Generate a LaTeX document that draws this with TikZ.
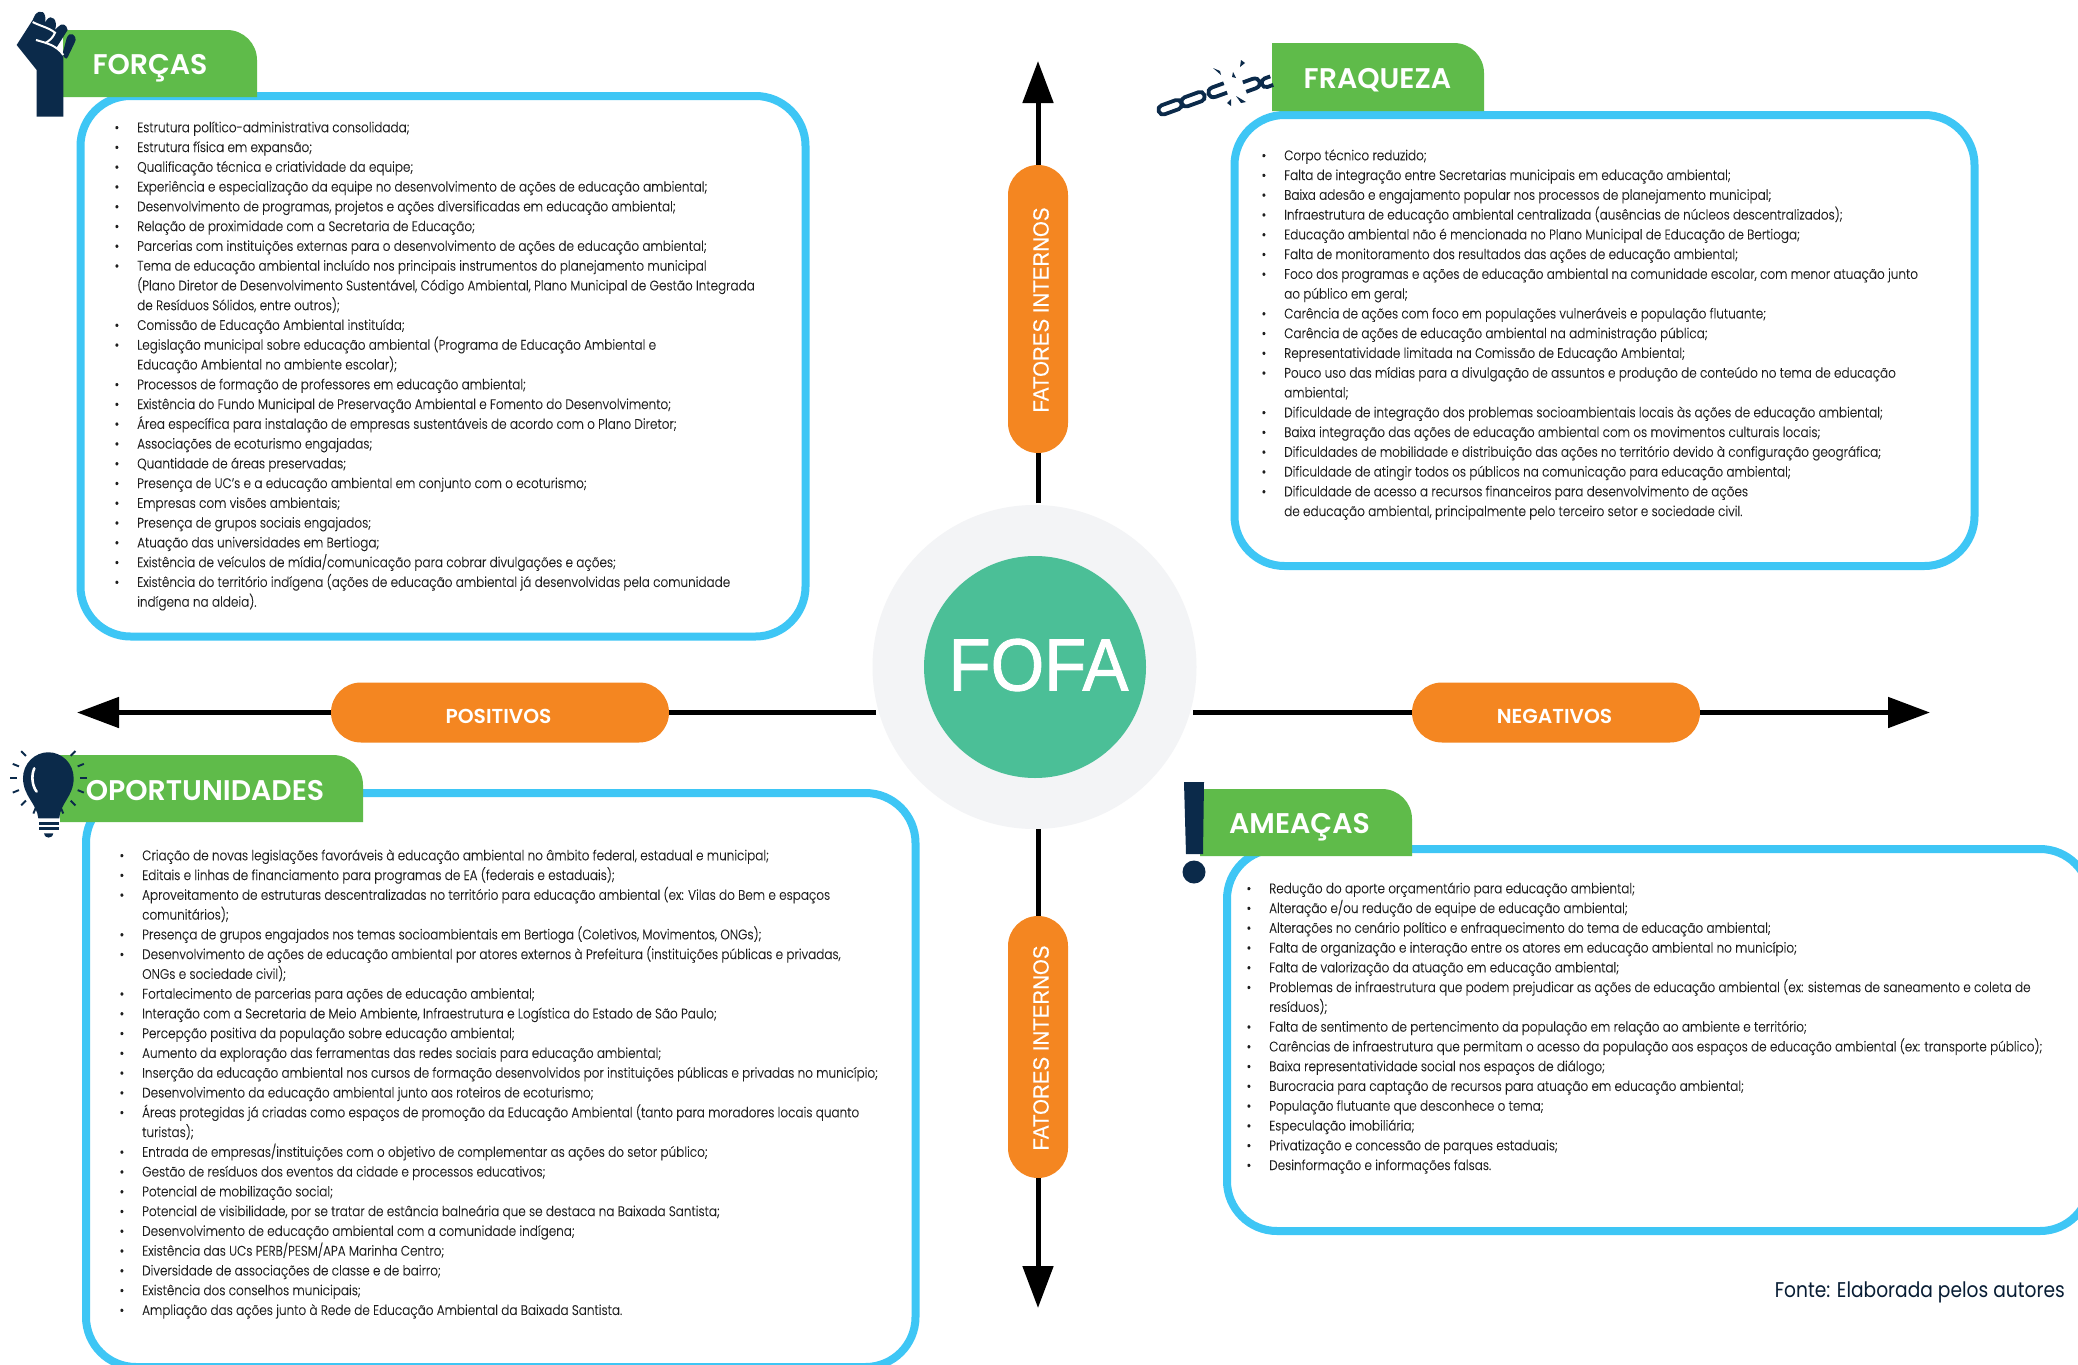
\documentclass[tikz,border=0pt]{standalone}
\usepackage{fontspec}
\usetikzlibrary{arrows.meta}
\setmainfont{Poppins Light}[FakeStretch=0.864,FakeBold=0.12]
\newfontfamily\popm{Poppins SemiBold}
\newfontfamily\popr{Poppins}[FakeStretch=0.875]
\newfontfamily\lib{Liberation Sans}[FakeStretch=0.93,FakeBold=0.35]
\newfontfamily\libb{Liberation Sans}[FakeStretch=0.93,FakeBold=1.2]
\definecolor{navy}{HTML}{0B2A4A}
\definecolor{sky}{HTML}{3EC6F5}
\definecolor{tabg}{HTML}{5FBB4A}
\definecolor{pillo}{HTML}{F48621}
\definecolor{teal}{HTML}{4BBF97}
\definecolor{halo}{HTML}{F3F4F6}
\definecolor{body}{HTML}{1E1E1E}
\newcommand{\bul}{\makebox[21pt][l]{\hspace{-1.5pt}•}}
\newcommand{\cnt}{\hspace{21pt}}
\tikzset{
 panel/.style={draw=sky,line width=8pt,rounded corners=50pt,fill=white,inner sep=0pt},
 tabfill/.style={fill=tabg},
 tabtext/.style={text=white,inner sep=0pt,font=\popm\fontsize{28.4}{30}\selectfont},
 listing/.style={anchor=north west,inner sep=0pt,align=left,text=body,font=\fontsize{13.9}{19.77}\selectfont},
 pill/.style={fill=pillo,rounded corners=30pt,inner sep=0pt,text=white},
 hpill/.style={pill,minimum height=60pt},
 vpill/.style={pill,minimum height=60pt,rotate=90},
 hlabel/.style={text=white,inner sep=0pt,font=\popm\fontsize{20.2}{22}\selectfont},
 vlabel/.style={text=white,inner sep=0pt,rotate=90,font=\lib\fontsize{22}{25}\selectfont},
 axis/.style={draw=black,line width=5pt},
 tipped/.style={axis,-{Triangle[length=42pt,width=30pt]}},
 icon/.style={fill=navy},
}
\begin{document}
\begin{tikzpicture}[x=1pt,y=-1pt]
\useasboundingbox (0,0) rectangle (2078,1365);
\clip (0,0) rectangle (2078,1365);
\fill[white] (0,0) rectangle (2078,1365);

% panels
\node[panel,minimum width=725pt,minimum height=540.5pt] (forcas) at (443,366.25) {};
\node[panel,minimum width=740pt,minimum height=451pt] (fraq) at (1604.5,340.5) {};
\node[panel,minimum width=829.5pt,minimum height=574pt] (opor) at (500.75,1080) {};
\node[panel,minimum width=863pt,minimum height=382pt] (amea) at (1658.5,1040) {};

% green tabs
\fill[tabfill] (63,97) [sharp corners] -- (63,30) [rounded corners=30pt] -- (257,30) [sharp corners] -- (257,97) -- cycle;
\fill[tabfill] (1272,111) [sharp corners] -- (1272,43) [rounded corners=30pt] -- (1484,43) [sharp corners] -- (1484,111) -- cycle;
\fill[tabfill] (60,822) [sharp corners] -- (60,755) [rounded corners=30pt] -- (363,755) [sharp corners] -- (363,822) -- cycle;
\fill[tabfill] (1200,856) [sharp corners] -- (1200,789) [rounded corners=30pt] -- (1412,789) [sharp corners] -- (1412,856) -- cycle;
\node[tabtext] (tF) at (150,68) {FORÇAS};
\node[tabtext] (tW) at (1377.5,80) {FRAQUEZA};
\node[tabtext] (tO) at (205,791) {OPORTUNIDADES};
\node[tabtext] (tT) at (1299.5,827) {AMEAÇAS};

% centre
\node[circle,fill=halo,minimum size=324pt,inner sep=0pt] (halo) at (1034.5,667) {};
\node[circle,fill=teal,minimum size=222pt,inner sep=0pt] (fofa) at (1035,667) {};
\node[text=white,inner sep=0pt,font=\libb\fontsize{74}{80}\selectfont] (fofat) at (1038.5,665) {FOFA};

% axes
\coordinate (tipN) at (1038,61);
\coordinate (tipS) at (1038,1308);
\coordinate (tipW) at (77,712.5);
\coordinate (tipE) at (1930,712.5);
\coordinate (stN) at (1038,503);
\coordinate (stS) at (1038,829);
\coordinate (stW) at (876,712.5);
\coordinate (stE) at (1193,712.5);
\node[vpill,minimum width=288pt] (pN) at (1038,309) {};
\node[vpill,minimum width=262pt] (pS) at (1038,1047) {};
\node[hpill,minimum width=338pt] (pW) at (500,712.5) {};
\node[hpill,minimum width=288pt] (pE) at (1556,712.5) {};
\draw[axis] (stN) -- (pN.west);
\draw[tipped] (pN.east) -- (tipN);
\draw[axis] (stS) -- (pS.east);
\draw[tipped] (pS.west) -- (tipS);
\draw[axis] (stW) -- (pW.east);
\draw[tipped] (pW.west) -- (tipW);
\draw[axis] (stE) -- (pE.west);
\draw[tipped] (pE.east) -- (tipE);
\node[vlabel] (lN) at (1041,310) {FATORES INTERNOS};
\node[vlabel] (lS) at (1041,1048) {FATORES INTERNOS};
\node[hlabel] (lW) at (498.5,716) {POSITIVOS};
\node[hlabel] (lE) at (1554.5,716) {NEGATIVOS};

% fist
\begin{scope}[x=0.3333pt,y=-0.3333pt]
\fill[icon] (110,350) -- (190,350) -- (190,165) -- (168,145) -- (203,90) .. controls (200,72) and (185,68) .. (175,80) -- (165,90) .. controls (175,60) and (155,40) .. (140,60) -- (135,68) .. controls (142,35) and (120,25) .. (105,45) -- (98,60) -- (50,135) -- (110,210) -- cycle;
\fill[icon] (218,103) .. controls (226,108) and (230,118) .. (224,128) -- (203,172) .. controls (198,182) and (190,170) .. (188,160) -- (200,115) .. controls (204,103) and (212,100) .. (218,103) -- cycle;
\draw[white,line width=2pt] (98,66) .. controls (120,78) and (145,82) .. (165,98) .. controls (158,115) and (148,122) .. (135,130);
\draw[white,line width=2pt] (108,120) .. controls (135,128) and (170,135) .. (190,165);
\end{scope}

% chain
\begin{scope}[navy,line width=3.8pt]
\draw[rounded corners=4.5pt,rotate around={20:(1170,107)}] (1158,102.5) rectangle (1182,112);
\draw[rounded corners=4.5pt,rotate around={20:(1193,99)}] (1181,94.5) rectangle (1205,104);
\draw[rotate around={20:(1217,91)}] (1226,86) -- (1214,86) .. controls (1206,86) and (1206,96) .. (1214,96) -- (1226,96);
\draw[rotate around={20:(1253,84)}] (1244,79) -- (1254,79) .. controls (1262,79) and (1262,89) .. (1254,89) -- (1244,89);
\draw[rotate around={20:(1268,82)}] (1272,77.5) -- (1266,77.5) .. controls (1260,77.5) and (1260,86.5) .. (1266,86.5) -- (1272,86.5);
\end{scope}
\fill[navy] (1213,68) -- (1220,71) -- (1221,75) -- cycle;
\fill[navy] (1241,60) -- (1245,63) -- (1240,67) -- cycle;
\fill[navy] (1233,72) -- (1236,78) -- (1232,77) -- cycle;
\fill[navy] (1236,96) -- (1246,102) -- (1241,103) -- cycle;
\fill[navy] (1227,103) -- (1231,99) -- (1231,106) -- cycle;

% bulb
\begin{scope}[x=0.3333pt,y=-0.3333pt,shift={(0,2160)}]
\fill[icon] (115,295) .. controls (110,250) and (70,230) .. (69,175) .. controls (69,130) and (105,97) .. (145,97) .. controls (185,97) and (221,130) .. (221,175) .. controls (221,230) and (180,250) .. (178,295) -- cycle;
\draw[white,line width=2.6pt,line cap=round] (103,145) .. controls (92,170) and (98,200) .. (110,215);
\fill[icon] (117,306) rectangle (177,316);
\fill[icon] (117,322) rectangle (177,331);
\fill[icon] (132,340) -- (160,340) .. controls (158,350) and (152,353) .. (146,353) .. controls (140,353) and (134,350) .. (132,340) -- cycle;
\foreach \a in {-45,-22,0,22,45,67,90,113,135,158,180,202,225}
 \draw[navy,line width=1.9pt] ({145+95*cos(\a)},{175+95*sin(\a)}) -- ({145+115*cos(\a)},{175+115*sin(\a)});
\end{scope}

% exclamation
\fill[icon] (1184,782) -- (1204,782) -- (1203,854) -- (1186,854) -- cycle;
\fill[icon] (1194,872) circle (11.5);

% lists
\node[listing] (lstF) at (116,118.2) {%
\strut\bul Estrutura político-administrativa consolidada;\\
\bul Estrutura física em expansão;\\
\bul Qualificação técnica e criatividade da equipe;\\
\bul Experiência e especialização da equipe no desenvolvimento de ações de educação ambiental;\\
\bul Desenvolvimento de programas, projetos e ações diversificadas em educação ambiental;\\
\bul Relação de proximidade com a Secretaria de Educação;\\
\bul Parcerias com instituições externas para o desenvolvimento de ações de educação ambiental;\\
\bul Tema de educação ambiental incluído nos principais instrumentos do planejamento municipal\\
\cnt (Plano Diretor de Desenvolvimento Sustentável, Código Ambiental, Plano Municipal de Gestão Integrada\\
\cnt de Resíduos Sólidos, entre outros);\\
\bul Comissão de Educação Ambiental instituída;\\
\bul Legislação municipal sobre educação ambiental (Programa de Educação Ambiental e\\
\cnt Educação Ambiental no ambiente escolar);\\
\bul Processos de formação de professores em educação ambiental;\\
\bul Existência do Fundo Municipal de Preservação Ambiental e Fomento do Desenvolvimento;\\
\bul Área específica para instalação de empresas sustentáveis de acordo com o Plano Diretor;\\
\bul Associações de ecoturismo engajadas;\\
\bul Quantidade de áreas preservadas;\\
\bul Presença de UC's e a educação ambiental em conjunto com o ecoturismo;\\
\bul Empresas com visões ambientais;\\
\bul Presença de grupos sociais engajados;\\
\bul Atuação das universidades em Bertioga;\\
\bul Existência de veículos de mídia/comunicação para cobrar divulgações e ações;\\
\bul Existência do território indígena (ações de educação ambiental já desenvolvidas pela comunidade\\
\cnt indígena na aldeia).};

\node[listing] (lstW) at (1263,146.2) {%
\strut\bul Corpo técnico reduzido;\\
\bul Falta de integração entre Secretarias municipais em educação ambiental;\\
\bul Baixa adesão e engajamento popular nos processos de planejamento municipal;\\
\bul Infraestrutura de educação ambiental centralizada (ausências de núcleos descentralizados);\\
\bul Educação ambiental não é mencionada no Plano Municipal de Educação de Bertioga;\\
\bul Falta de monitoramento dos resultados das ações de educação ambiental;\\
\bul Foco dos programas e ações de educação ambiental na comunidade escolar, com menor atuação junto\\
\cnt ao público em geral;\\
\bul Carência de ações com foco em populações vulneráveis e população flutuante;\\
\bul Carência de ações de educação ambiental na administração pública;\\
\bul Representatividade limitada na Comissão de Educação Ambiental;\\
\bul Pouco uso das mídias para a divulgação de assuntos e produção de conteúdo no tema de educação\\
\cnt ambiental;\\
\bul Dificuldade de integração dos problemas socioambientais locais às ações de educação ambiental;\\
\bul Baixa integração das ações de educação ambiental com os movimentos culturais locais;\\
\bul Dificuldades de mobilidade e distribuição das ações no território devido à configuração geográfica;\\
\bul Dificuldade de atingir todos os públicos na comunicação para educação ambiental;\\
\bul Dificuldade de acesso a recursos financeiros para desenvolvimento de ações\\
\cnt de educação ambiental, principalmente pelo terceiro setor e sociedade civil.};

\node[listing] (lstO) at (121,846.2) {%
\strut\bul Criação de novas legislações favoráveis à educação ambiental no âmbito federal, estadual e municipal;\\
\bul Editais e linhas de financiamento para programas de EA (federais e estaduais);\\
\bul Aproveitamento de estruturas descentralizadas no território para educação ambiental (ex: Vilas do Bem e espaços\\
\cnt comunitários);\\
\bul Presença de grupos engajados nos temas socioambientais em Bertioga (Coletivos, Movimentos, ONGs);\\
\bul Desenvolvimento de ações de educação ambiental por atores externos à Prefeitura (instituições públicas e privadas,\\
\cnt ONGs e sociedade civil);\\
\bul Fortalecimento de parcerias para ações de educação ambiental;\\
\bul Interação com a Secretaria de Meio Ambiente, Infraestrutura e Logística do Estado de São Paulo;\\
\bul Percepção positiva da população sobre educação ambiental;\\
\bul Aumento da exploração das ferramentas das redes sociais para educação ambiental;\\
\bul Inserção da educação ambiental nos cursos de formação desenvolvidos por instituições públicas e privadas no município;\\
\bul Desenvolvimento da educação ambiental junto aos roteiros de ecoturismo;\\
\bul Áreas protegidas já criadas como espaços de promoção da Educação Ambiental (tanto para moradores locais quanto\\
\cnt turistas);\\
\bul Entrada de empresas/instituições com o objetivo de complementar as ações do setor público;\\
\bul Gestão de resíduos dos eventos da cidade e processos educativos;\\
\bul Potencial de mobilização social;\\
\bul Potencial de visibilidade, por se tratar de estância balneária que se destaca na Baixada Santista;\\
\bul Desenvolvimento de educação ambiental com a comunidade indígena;\\
\bul Existência das UCs PERB/PESM/APA Marinha Centro;\\
\bul Diversidade de associações de classe e de bairro;\\
\bul Existência dos conselhos municipais;\\
\bul Ampliação das ações junto à Rede de Educação Ambiental da Baixada Santista.};

\node[listing] (lstT) at (1248,879.2) {%
\strut\bul Redução do aporte orçamentário para educação ambiental;\\
\bul Alteração e/ou redução de equipe de educação ambiental;\\
\bul Alterações no cenário político e enfraquecimento do tema de educação ambiental;\\
\bul Falta de organização e interação entre os atores em educação ambiental no município;\\
\bul Falta de valorização da atuação em educação ambiental;\\
\bul Problemas de infraestrutura que podem prejudicar as ações de educação ambiental (ex: sistemas de saneamento e coleta de\\
\cnt resíduos);\\
\bul Falta de sentimento de pertencimento da população em relação ao ambiente e território;\\
\bul Carências de infraestrutura que permitam o acesso da população aos espaços de educação ambiental (ex: transporte público);\\
\bul Baixa representatividade social nos espaços de diálogo;\\
\bul Burocracia para captação de recursos para atuação em educação ambiental;\\
\bul População flutuante que desconhece o tema;\\
\bul Especulação imobiliária;\\
\bul Privatização e concessão de parques estaduais;\\
\bul Desinformação e informações falsas.};

\node[anchor=east,inner sep=0pt,text=navy!70!black,font=\popr\fontsize{21.3}{24}\selectfont] (fonte) at (2065,1292) {Fonte: Elaborada pelos autores};
\end{tikzpicture}
\end{document}
